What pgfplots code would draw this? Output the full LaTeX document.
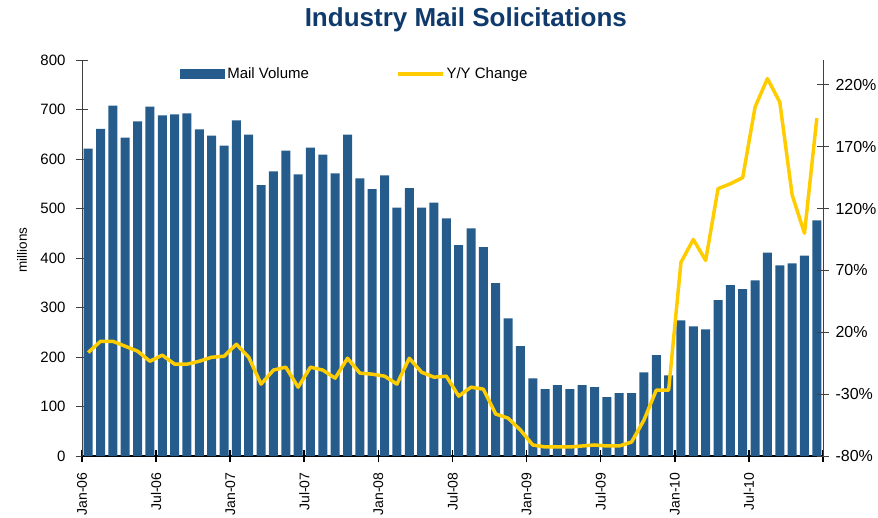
\documentclass[border=0pt]{standalone}
\usepackage{fontspec}
\setmainfont{Liberation Sans}
\usepackage{pgfplots}
\pgfplotsset{compat=1.18}
\usepackage{pgfplotstable}
\definecolor{barblue}{HTML}{255C8C}
\definecolor{yyyellow}{HTML}{FFCC00}
\definecolor{titleblue}{HTML}{0F3A6B}

\pgfplotstableread{
x vol yoy
0.5 621 3.6
1.5 661 12.7
2.5 708 12.7
3.5 643 8.7
4.5 676 4.7
5.5 706 -3.4
6.5 688 1.5
7.5 690 -5.8
8.5 692 -5.8
9.5 660 -3.4
10.5 647 -0.2
11.5 627 0.6
12.5 678 10.3
13.5 649 -0.2
14.5 547 -21.9
15.5 575 -10.6
16.5 617 -8.2
17.5 569 -24.4
18.5 623 -8.2
19.5 609 -10.6
20.5 571 -17.1
21.5 649 -1.0
22.5 561 -13.0
23.5 539 -13.9
24.5 567 -15.5
25.5 502 -21.9
26.5 541 -1.0
27.5 502 -12.3
28.5 512 -16.3
29.5 480 -15.5
30.5 426 -31.6
31.5 460 -24.4
32.5 422 -26.0
33.5 349 -46.1
34.5 278 -49.4
35.5 222 -59.0
36.5 157 -71.1
37.5 135 -72.7
38.5 143 -72.7
39.5 135 -72.7
40.5 143 -71.9
41.5 139 -71.1
42.5 119 -71.9
43.5 127 -71.9
44.5 127 -68.7
45.5 169 -51.0
46.5 204 -26.8
47.5 163 -26.8
48.5 274 76.5
49.5 262 95.0
50.5 256 78.0
51.5 315 136.0
52.5 345 140.0
53.5 337 145.0
54.5 355 202.0
55.5 411 225.0
56.5 385 206.0
57.5 389 131.0
58.5 405 100.0
59.5 476 193.0
}\data

\begin{document}
\begin{tikzpicture}[x=1pt,y=1pt]
\useasboundingbox (-82,-61) rectangle (796,456);
\begin{axis}[
  at={(0pt,0pt)}, anchor=south west, scale only axis,
  width=741pt, height=396pt,
  xmin=0, xmax=60, ymin=0, ymax=800,
  axis x line*=bottom, axis y line*=left, axis line style={-},
  x axis line style={line width=2.2pt, black},
  y axis line style={line width=0.7pt, black!75},
  xtick={0,6,...,60},
  xticklabels={Jan-06,Jul-06,Jan-07,Jul-07,Jan-08,Jul-08,Jan-09,Jul-09,Jan-10,Jul-10,},
  xticklabel style={rotate=90, anchor=east, font=\fontsize{14}{16}\selectfont},
  xticklabel shift=7pt,
  ytick={0,100,...,800},
  yticklabel style={font=\fontsize{15}{17}\selectfont, xshift=-7pt},
  /pgf/number format/assume math mode=true,
  tick align=center, major tick length=12pt,
  xtick style={line width=1.6pt, black},
  ytick style={line width=0.7pt, black!75},
  ylabel={millions},
  every axis y label/.style={at={(axis description cs:-0.0810,0.52)}, rotate=90, anchor=center, font=\fontsize{13.5}{15}\selectfont},
  title={Industry Mail Solicitations},
  title style={at={(axis description cs:0.518,1.086)}, anchor=center, font=\bfseries\fontsize{26}{29}\selectfont, text=titleblue},
  legend columns=2,
  legend style={at={(axis description cs:0.1324,0.9646)}, anchor=west, draw=none, fill=none, inner sep=0pt,
    font=\fontsize{15}{17}\selectfont,
    /tikz/every even column/.append style={column sep=85pt}},
  clip=false,
]
\addplot[ybar, bar width=9pt, bar shift=0pt, fill=barblue, draw=none,
  legend image code/.code={\fill[barblue] (0pt,-5pt) rectangle (45pt,5pt);}]
  table[x=x, y=vol]{\data};
\addlegendentry{Mail Volume}
\addlegendimage{legend image code/.code={\draw[yyyellow, line width=3.5pt] (0pt,0pt) -- (45pt,0pt);}}
\addlegendentry{Y/Y Change}
\end{axis}
\begin{axis}[
  at={(0pt,0pt)}, anchor=south west, scale only axis,
  width=741pt, height=396pt,
  xmin=0, xmax=60, ymin=-80, ymax=240,
  axis x line=none, axis y line*=right, axis line style={-},
  y axis line style={line width=0.7pt, black!75},
  ytick={-80,-30,...,220},
  yticklabel={\pgfmathprintnumber{\tick}\%},
  yticklabel style={font=\fontsize{16}{18}\selectfont, xshift=3pt},
  /pgf/number format/assume math mode=true,
  tick align=center, major tick length=12pt,
  ytick style={line width=0.7pt, black!75},
  clip=false,
]
\addplot[yyyellow, line width=3.5pt, line join=round, mark=none] table[x=x, y=yoy]{\data};
\end{axis}
\end{tikzpicture}
\end{document}
